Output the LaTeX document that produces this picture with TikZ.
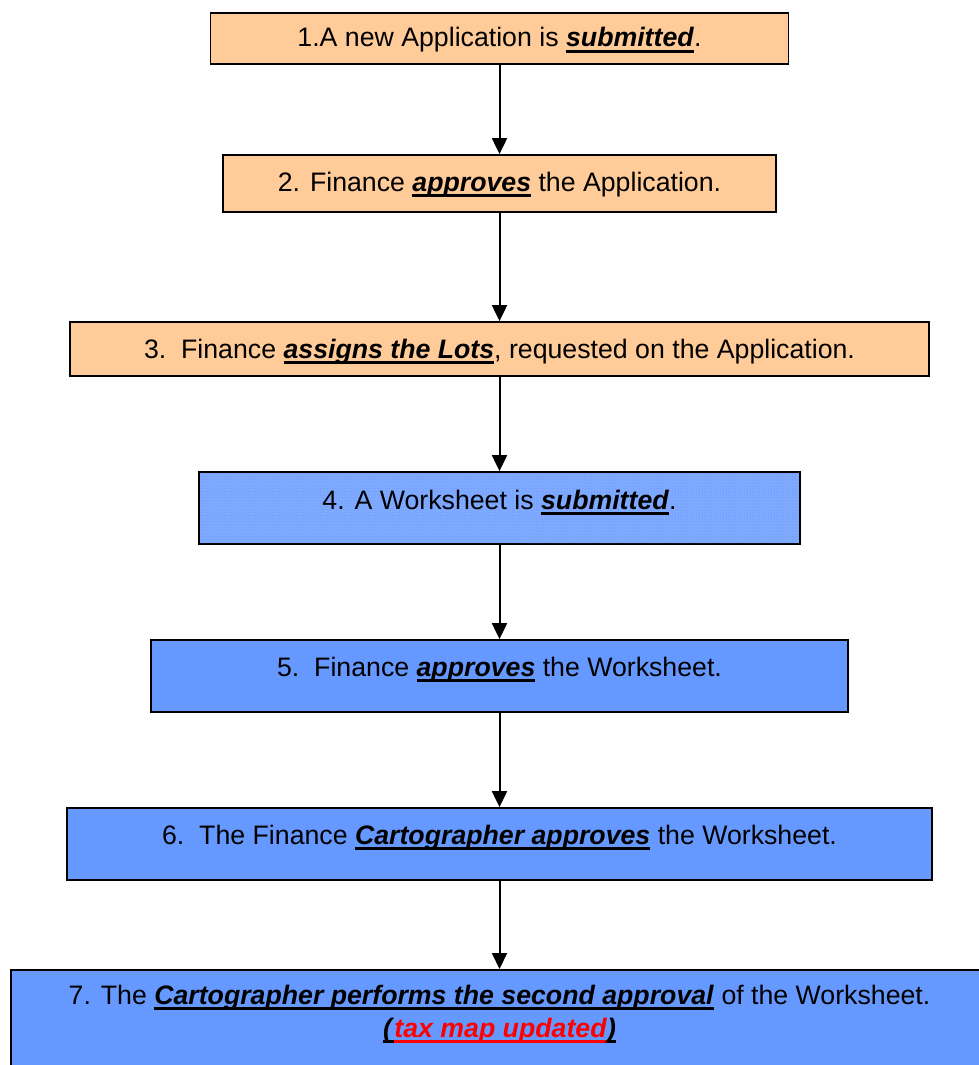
\documentclass[tikz,border=0pt]{standalone}
\usepackage{fontspec}
\setmainfont{Liberation Sans}
\usetikzlibrary{arrows.meta,patterns}
\definecolor{peach}{HTML}{FFCC99}
\definecolor{stepblue}{HTML}{6699FF}
\definecolor{lightblue}{HTML}{80AAFF}
\definecolor{dotblue}{HTML}{5588FF}
\newsavebox{\kwbox}
\newcommand{\kw}[1]{\sbox{\kwbox}{\textbf{\textit{#1}}}\leavevmode\rlap{\rule[-5.8pt]{\wd\kwbox}{2.6pt}}\usebox{\kwbox}}
\begin{document}
\begin{tikzpicture}[x=1pt,y=-1pt,
  stepbox/.style={draw=black,line width=1.8pt,inner sep=0pt},
  txt/.style={inner sep=0pt,anchor=base,font=\fontsize{26.7}{32}\selectfont},
  conn/.style={line width=2pt,-{Triangle[width=15pt,length=16pt]}}]
\useasboundingbox (0,0) rectangle (978,1065);
\node[stepbox,fill=peach,minimum width=578pt,minimum height=51pt] (b1) at (499.5,38.5) {};
\node[stepbox,fill=peach,minimum width=553pt,minimum height=57pt] (b2) at (499.5,183.5) {};
\node[stepbox,fill=peach,minimum width=859pt,minimum height=54pt] (b3) at (499.5,349) {};
\node[stepbox,fill=lightblue,minimum width=601pt,minimum height=72pt,
  postaction={pattern=dots,pattern color=dotblue}] (b4) at (499.5,508) {};
\node[stepbox,fill=stepblue,minimum width=697pt,minimum height=72pt] (b5) at (499.5,676) {};
\node[stepbox,fill=stepblue,minimum width=865pt,minimum height=72pt] (b6) at (499.5,844) {};
\node[stepbox,fill=stepblue,minimum width=990pt,minimum height=130pt,anchor=north west] (b7) at (10,969) {};
\node[txt] (t1) at (499.5,47) {1.A new Application is \kw{submitted}.};
\node[txt] (t2) at (499.5,191) {2. Finance \kw{approves} the Application.};
\node[txt] (t3) at (499.5,358) {3.\ \ Finance \kw{assigns the Lots}, requested on the Application.};
\node[txt] (t4) at (499.5,509) {4. A Worksheet is \kw{submitted}.};
\node[txt] (t5) at (499.5,676) {5.\ \ Finance \kw{approves} the Worksheet.};
\node[txt] (t6) at (499.5,844) {6.\ \ The Finance \kw{Cartographer approves} the Worksheet.};
\node[txt] (t7a) at (499.5,1004) {7. The \kw{Cartographer performs the second approval} of the Worksheet.};
\node[txt] (t7b) at (499.5,1037) {\kw{(}\textcolor{red}{\kw{tax map updated}}\kw{)}};
\draw[conn] (b1.south -| 499.5,0) -- (b2.north -| 499.5,0);
\draw[conn] (b2.south -| 499.5,0) -- (b3.north -| 499.5,0);
\draw[conn] (b3.south -| 499.5,0) -- (b4.north -| 499.5,0);
\draw[conn] (b4.south -| 499.5,0) -- (b5.north -| 499.5,0);
\draw[conn] (b5.south -| 499.5,0) -- (b6.north -| 499.5,0);
\draw[conn] (b6.south -| 499.5,0) -- (b7.north -| 499.5,0);
\end{tikzpicture}
\end{document}
